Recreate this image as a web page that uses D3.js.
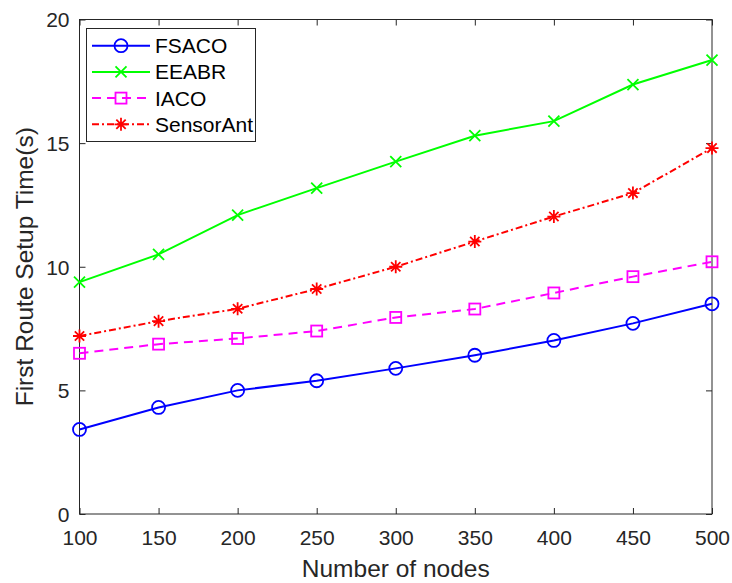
<!DOCTYPE html>
<html><head><meta charset="utf-8">
<script src="https://cdn.jsdelivr.net/npm/d3@7"></script>
<style>body{margin:0;background:#fff}svg{display:block}text{font-family:"Liberation Sans",Arial,Helvetica,sans-serif}</style>
</head><body><svg id="c" width="732" height="583"></svg>
<script>
const nodes = [100,150,200,250,300,350,400,450,500];
const fsaco = [3.42,4.31,5.0,5.39,5.89,6.42,7.02,7.71,8.5];
const eeabr = [9.38,10.5,12.09,13.18,14.25,15.3,15.89,17.37,18.36];
const iaco = [6.5,6.87,7.1,7.4,7.95,8.29,8.94,9.6,10.2];
const sensorAnt = [7.2,7.8,8.3,9.1,10.0,11.02,12.03,12.98,14.8];
const xTicks = [100,150,200,250,300,350,400,450,500];
const yTicks = [0,5,10,15,20];

const series = [
  {name:"FSACO", values:fsaco, color:"#0000ff", dash:null, marker:"circle"},
  {name:"EEABR", values:eeabr, color:"#00ff00", dash:null, marker:"x"},
  {name:"IACO", values:iaco, color:"#ff00ff", dash:"9,6", marker:"square"},
  {name:"SensorAnt", values:sensorAnt, color:"#ff0000", dash:"7,3,2,3", marker:"star"}
];

const L=79.5, R=712, T=19.5, B=514;
const svg = d3.select("#c");
const x = d3.scaleLinear().domain([100,500]).range([L,R]);
const y = d3.scaleLinear().domain([0,20]).range([B,T]);
const axisColor="#262626";

svg.append("rect").attr("x",L).attr("y",T).attr("width",R-L).attr("height",B-T)
  .attr("fill","none").attr("stroke",axisColor).attr("stroke-width",1);

const gx = svg.append("g").attr("transform",`translate(0,${B})`)
  .call(d3.axisBottom(x).tickValues(xTicks).tickSizeInner(-6).tickSizeOuter(0).tickPadding(16));
const gxt = svg.append("g").attr("transform",`translate(0,${T})`)
  .call(d3.axisTop(x).tickValues(xTicks).tickSizeInner(-6).tickSizeOuter(0).tickFormat(""));
const gy = svg.append("g").attr("transform",`translate(${L},0)`)
  .call(d3.axisLeft(y).tickValues(yTicks).tickSizeInner(-6).tickSizeOuter(0).tickPadding(10));
const gyr = svg.append("g").attr("transform",`translate(${R},0)`)
  .call(d3.axisRight(y).tickValues(yTicks).tickSizeInner(-6).tickSizeOuter(0).tickFormat(""));
[gx,gxt,gy,gyr].forEach(g=>{
  g.select(".domain").remove();
  g.selectAll("line").attr("stroke",axisColor);
  g.selectAll("text").attr("fill",axisColor).style("font-size","21px").style("font-family",'"Liberation Sans",Arial,sans-serif');
});
gy.selectAll("text").attr("dy","0.35em");

svg.append("text").attr("x",(L+R)/2).attr("y",577).attr("text-anchor","middle")
  .attr("fill",axisColor).style("font-size","24.5px").text("Number of nodes");
svg.append("text").attr("transform",`translate(33,${(T+B)/2}) rotate(-90)`).attr("text-anchor","middle")
  .attr("fill",axisColor).style("font-size","24.5px").text("First Route Setup Time(s)");

function drawMarker(g, type, cx, cy, color){
  if(type==="circle"){
    g.append("circle").attr("cx",cx).attr("cy",cy).attr("r",6.5).attr("fill","none").attr("stroke",color).attr("stroke-width",1.8);
  } else if(type==="x"){
    const s=5.5;
    g.append("path").attr("d",`M${cx-s},${cy-s}L${cx+s},${cy+s}M${cx-s},${cy+s}L${cx+s},${cy-s}`).attr("stroke",color).attr("stroke-width",1.8);
  } else if(type==="square"){
    const s=5.5;
    g.append("rect").attr("x",cx-s).attr("y",cy-s).attr("width",2*s).attr("height",2*s).attr("fill","none").attr("stroke",color).attr("stroke-width",1.8);
  } else if(type==="star"){
    const s=6.5, d=s*0.72;
    g.append("path").attr("d",`M${cx-s},${cy}L${cx+s},${cy}M${cx},${cy-s}L${cx},${cy+s}M${cx-d},${cy-d}L${cx+d},${cy+d}M${cx-d},${cy+d}L${cx+d},${cy-d}`)
      .attr("stroke",color).attr("stroke-width",1.8);
  }
}

const line = d3.line().x((d,i)=>x(nodes[i])).y(d=>y(d));
series.forEach(s=>{
  const g = svg.append("g");
  g.append("path").datum(s.values).attr("d",line).attr("fill","none").attr("stroke",s.color)
    .attr("stroke-width",2).attr("stroke-dasharray",s.dash);
  s.values.forEach((v,i)=>drawMarker(g,s.marker,x(nodes[i]),y(v),s.color));
});

const lg = svg.append("g");
lg.append("rect").attr("x",86.5).attr("y",28.5).attr("width",169).attr("height",113)
  .attr("fill","#fff").attr("stroke",axisColor).attr("stroke-width",1);
series.forEach((s,i)=>{
  const cy = 45.7 + i*26.2;
  lg.append("line").attr("x1",92).attr("x2",150).attr("y1",cy).attr("y2",cy)
    .attr("stroke",s.color).attr("stroke-width",2).attr("stroke-dasharray",s.dash);
  drawMarker(lg,s.marker,121,cy,s.color);
  lg.append("text").attr("x",155).attr("y",cy).attr("dy","0.36em").attr("fill","#000")
    .style("font-size","21px").text(s.name);
});
</script></body></html>
